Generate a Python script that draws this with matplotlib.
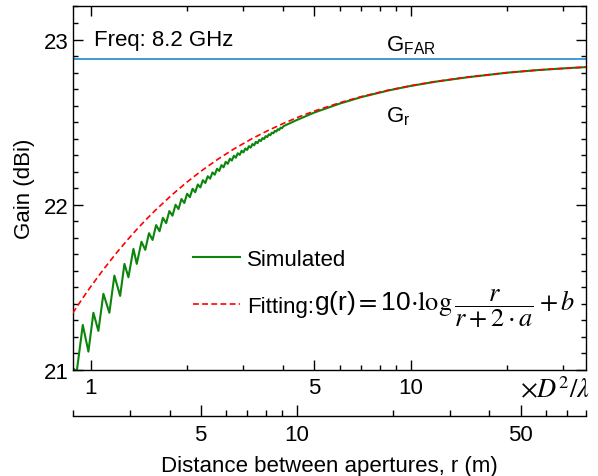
import matplotlib
matplotlib.use('Agg')
import matplotlib.pyplot as plt
from matplotlib.ticker import FixedLocator, NullFormatter

plt.rcParams['font.family'] = ['Liberation Sans', 'DejaVu Sans']
plt.rcParams['mathtext.fontset'] = 'custom'
plt.rcParams['mathtext.rm'] = 'Liberation Sans'
plt.rcParams['mathtext.it'] = 'Liberation Sans:italic'
plt.rcParams['mathtext.bf'] = 'Liberation Sans:bold'
plt.rcParams['mathtext.sf'] = 'Liberation Sans'
plt.rcParams['font.size'] = 16

# distance in units of D^2/lambda, gain in dBi
sim_x = [0.878, 0.904, 0.944, 0.983, 1.019, 1.056, 1.095, 1.143, 1.185, 1.235,
         1.274, 1.311, 1.359, 1.392,
         1.44, 1.48, 1.52, 1.56, 1.60, 1.64, 1.68, 1.72, 1.76, 1.80,
         1.84, 1.88, 1.92, 1.96, 2.00, 2.04, 2.08, 2.12, 2.16, 2.20,
         2.24, 2.28, 2.32, 2.36, 2.40, 2.44, 2.48, 2.52, 2.56, 2.60,
         2.64, 2.68, 2.72, 2.76, 2.80, 2.84, 2.88, 2.92, 2.96, 3.00,
         3.04, 3.08, 3.12, 3.16, 3.20, 3.24, 3.28, 3.32, 3.36, 3.40,
         3.44, 3.48, 3.52, 3.56, 3.60, 3.64, 3.68, 3.72, 3.76, 3.80,
         3.84, 3.88, 3.92, 3.96, 4.00,
         4.4, 5.0, 6.0, 7.0, 8.5, 10, 12, 15, 20, 25, 30, 35.3]
sim_gain = [21.01, 20.99, 21.271, 21.11, 21.345, 21.235, 21.46, 21.345, 21.57, 21.447,
            21.641, 21.56, 21.732, 21.641,
            21.775, 21.726, 21.827, 21.786, 21.876, 21.839, 21.920, 21.888, 21.961, 21.933,
            21.999, 21.973, 22.034, 22.010, 22.066, 22.045, 22.096, 22.075, 22.122, 22.104,
            22.148, 22.131, 22.172, 22.157, 22.195, 22.181, 22.217, 22.204, 22.239, 22.226,
            22.259, 22.247, 22.278, 22.267, 22.296, 22.284, 22.311, 22.301, 22.326, 22.316,
            22.340, 22.331, 22.354, 22.345, 22.367, 22.359, 22.380, 22.372, 22.392, 22.385,
            22.403, 22.397, 22.415, 22.409, 22.426, 22.420, 22.436, 22.432, 22.447, 22.442,
            22.457, 22.452, 22.466, 22.463, 22.475,
            22.512, 22.558, 22.612, 22.651, 22.691, 22.719, 22.745, 22.771, 22.799,
            22.815, 22.825, 22.833]

fit_x = [0.878, 0.95, 1.0, 1.1, 1.2, 1.3, 1.4, 1.5, 1.6, 1.8, 2.0, 2.2, 2.5, 2.8,
         3.2, 3.6, 4.0, 4.5, 5.0, 6.0, 7.0, 8.5, 10, 12, 15, 20, 25, 30, 35.3]
fit_gain = [21.343, 21.442, 21.504, 21.612, 21.705, 21.785, 21.855, 21.916, 21.970,
            22.062, 22.137, 22.200, 22.276, 22.337, 22.401, 22.451, 22.492, 22.534,
            22.567, 22.617, 22.654, 22.693, 22.720, 22.746, 22.772, 22.799, 22.815,
            22.825, 22.833]

g_far = 22.879
m_per_unit = 2.27   # one D^2/lambda in metres

fig = plt.figure(figsize=(5.98, 4.77), dpi=100)
ax = fig.add_axes([0.1216, 0.2228, 0.8584, 0.7615])

ax.axhline(g_far, color='#3d9ad6', lw=1.4, zorder=1)
ax.plot(sim_x, sim_gain, color='#0b850b', lw=1.5, label='Simulated', zorder=2)
ax.plot(fit_x, fit_gain, color='#ff0000', lw=1.2, ls=(0, (3.5, 2)), zorder=3,
        label='Fitting:')

ax.set_xscale('log')
ax.set_xlim(0.878, 35.3)
ax.set_ylim(21, 23.2)

ax.xaxis.set_major_locator(FixedLocator([1, 5, 10]))
ax.xaxis.set_minor_locator(FixedLocator([2, 3, 4, 6, 7, 8, 9, 20, 30]))
ax.xaxis.set_minor_formatter(NullFormatter())
ax.set_xticklabels(['1', '5', '10'])
ax.set_yticks([21, 22, 23])
ax.set_yticklabels(['21', '22', '23'])
ax.set_yticks([21 + 0.1 * i for i in range(23)], minor=True)

ax.tick_params(which='both', direction='in', top=True, right=True, width=1)
ax.tick_params(which='major', length=7)
ax.tick_params(which='minor', length=3.8)
ax.tick_params(axis='x', pad=5)
ax.tick_params(axis='y', pad=3)
for s in ax.spines.values():
    s.set_linewidth(1)

ax.set_ylabel('Gain (dBi)', labelpad=6)

sec = ax.secondary_xaxis(-0.1267, functions=(lambda x: x * m_per_unit,
                                              lambda r: r / m_per_unit))
sec.xaxis.set_major_locator(FixedLocator([5, 10, 50]))
sec.xaxis.set_minor_locator(FixedLocator([2, 3, 4, 6, 7, 8, 9, 20, 30, 40, 60, 70, 80]))
sec.xaxis.set_minor_formatter(NullFormatter())
sec.set_xticklabels(['5', '10', '50'])
sec.tick_params(which='both', direction='in', width=1, pad=6)
sec.tick_params(which='major', length=8)
sec.tick_params(which='minor', length=4)
sec.spines['bottom'].set_linewidth(1)
sec.set_xlabel('Distance between apertures, r (m)', labelpad=7)

ax.text(1.008, -0.055, r'$\times D^2/\lambda$', transform=ax.transAxes,
        ha='right', va='center', fontsize=19, math_fontfamily='stix')
ax.text(1.024, 23.0, 'Freq: 8.2 GHz', ha='left', va='center')
ax.text(8.37, 22.933, r'G$_{\mathrm{FAR}}$', ha='left', va='baseline')
ax.text(8.37, 22.501, r'G$_{\mathrm{r}}$', ha='left', va='baseline')

leg = ax.legend(loc='center left', bbox_to_anchor=(0.234, 0.238), frameon=False,
                borderpad=0, borderaxespad=0, handlelength=2.1, handletextpad=0.35,
                labelspacing=1.17)

# formula written after the "Fitting:" legend entry
ax.text(0.470, 0.162, r'g(r)$=$10$\cdot\log\dfrac{r}{r+2\cdot a}+b$',
        transform=ax.transAxes, ha='left', va='baseline', fontsize=19,
        math_fontfamily='stix')

fig.savefig('out.png', dpi=100)
